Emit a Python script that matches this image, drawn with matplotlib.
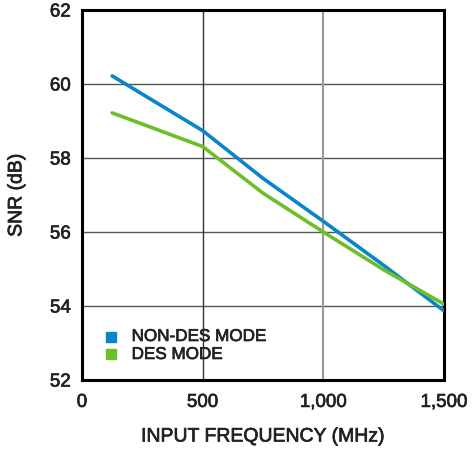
import matplotlib.pyplot as plt
import matplotlib.patheffects as pe

plt.rcParams['font.family'] = ['Liberation Sans', 'DejaVu Sans']

freq_mhz = [125, 500, 750, 1000, 1250, 1500]
snr_non_des = [60.22, 58.74, 57.45, 56.29, 55.10, 53.87]
snr_des = [59.22, 58.31, 57.05, 56.0, 54.98, 54.05]
series_labels = ["NON-DES MODE", "DES MODE"]

blue = "#0886c8"
green = "#6cbf2a"
text_col = "#222222"
heavy = [pe.withStroke(linewidth=0.5, foreground=text_col)]

fig = plt.figure(figsize=(4.72, 4.51), dpi=100)
ax = fig.add_axes([0.1737, 0.1574, 0.7670, 0.8204])

ax.plot(freq_mhz, snr_non_des, color=blue, lw=2.6, solid_capstyle="round", zorder=3)
ax.plot(freq_mhz, snr_des, color=green, lw=2.6, solid_capstyle="round", zorder=3)

ax.set_xlim(0, 1500)
ax.set_ylim(52, 62)
ax.set_xticks([0, 500, 1000, 1500])
ax.set_xticklabels(["0", "500", "1,000", "1,500"])
ax.set_yticks([52, 54, 56, 58, 60, 62])

# grid lines
for y in [54, 56, 58, 60]:
    ax.axhline(y, color="#555555", lw=1.0, zorder=1)
ax.axvline(500, color="#333333", lw=1.0, zorder=1)
ax.axvline(1000, color="#999999", lw=1.5, zorder=1)

for s in ax.spines.values():
    s.set_linewidth(2.2)
    s.set_color("black")

ax.tick_params(length=0, labelsize=13.5, colors=text_col)
ax.tick_params(axis="x", pad=10)
ax.tick_params(axis="y", pad=8)
for t in ax.get_xticklabels() + ax.get_yticklabels():
    t.set_path_effects(heavy)

ax.set_xlabel("INPUT FREQUENCY (MHz)", fontsize=14, color=text_col,
              va="center", path_effects=heavy)
ax.set_ylabel("SNR (dB)", fontsize=14, color=text_col,
              va="center", path_effects=heavy)
ax.xaxis.set_label_coords(0.5, -0.154)
ax.yaxis.set_label_coords(-0.18, 0.5)

# legend drawn as squares + text
for lab, col, yy in zip(series_labels, [blue, green], [0.1176, 0.069]):
    ax.plot([0.079], [yy], marker="s", ms=6.5, color=col, transform=ax.transAxes,
            clip_on=False, zorder=4)
    ax.text(0.137, yy, lab, transform=ax.transAxes, fontsize=12.3, color=text_col,
            va="center", ha="left", path_effects=heavy)

fig.savefig("out.png", dpi=100)
